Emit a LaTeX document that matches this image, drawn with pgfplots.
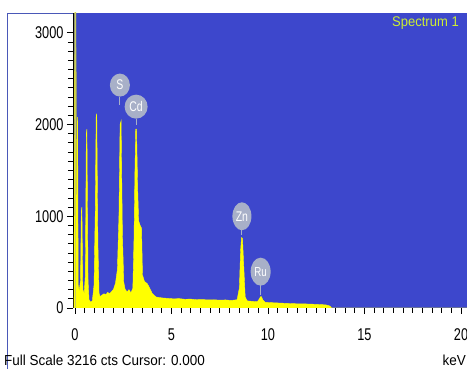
\documentclass[border=0pt]{standalone}
\usepackage{fontspec}
\setmainfont{Liberation Sans}
\newfontfamily\narrowfont{Liberation Sans}[FakeStretch=0.75]
\newfontfamily\infofont{Liberation Sans}[FakeStretch=0.93]
\usepackage{pgfplots}
\pgfplotsset{compat=1.18}
\usetikzlibrary{shapes.geometric}
\definecolor{bgblue}{HTML}{3D47CC}
\definecolor{specyellow}{HTML}{FFFF00}
\definecolor{bubble}{HTML}{A8B0C8}
\definecolor{spectxt}{HTML}{CCEE33}
\definecolor{framecol}{HTML}{4A58B8}
\definecolor{spikecol}{HTML}{C8CC60}
\begin{document}
\begin{tikzpicture}
\path[use as bounding box] (0,0) rectangle (467pt,369pt);
\draw[framecol, line width=0.8pt] (7pt,0pt) -- (7pt,356pt) -- (467pt,356pt);
\begin{axis}[
  at={(73pt,61pt)}, anchor=south west,
  scale only axis, width=394pt, height=295pt,
  xmin=-0.1, xmax=20.31, ymin=0, ymax=3216,
  axis background/.style={fill=bgblue},
  axis x line*=bottom, axis y line*=left,
  axis line style={-},
  x axis line style={draw=none},
  y axis line style={black, line width=0.9pt},
  xtick={0,5,10,15,20}, ytick={0,1000,2000,3000},
  minor x tick num=9, minor y tick num=9,
  tick align=outside,
  major tick length=6pt, minor tick length=5pt,
  every tick/.style={black, line width=0.8pt},
  /pgf/number format/assume math mode=true,
  /pgf/number format/1000 sep={},
  xticklabel style={font=\narrowfont\fontsize{17}{17}\selectfont, yshift=-11pt},
  yticklabel style={font=\narrowfont\fontsize{17}{17}\selectfont},
]
\addplot[fill=specyellow, draw=specyellow, line width=0.4pt] coordinates {
(-0.05,0) (0.00,3400) (0.05,3400) (0.08,300) (0.10,700) (0.12,2000) (0.14,2080) (0.17,250)
(0.22,180) (0.29,300) (0.33,1050) (0.36,1100) (0.41,200) (0.48,160) (0.54,350) (0.59,1900) (0.62,1950)
(0.68,300) (0.73,90) (0.80,65) (0.90,75) (0.99,250) (1.05,1000) (1.10,2080) (1.13,2120)
(1.19,700) (1.25,160) (1.30,125) (1.40,140) (1.50,155) (1.60,145) (1.70,170)
(1.80,155) (1.90,180) (2.00,205) (2.10,270) (2.20,420) (2.28,1000) (2.34,2000) (2.39,2040)
(2.46,800) (2.53,280) (2.60,205) (2.70,175) (2.80,200) (2.90,165) (3.00,215)
(3.06,750) (3.11,1500) (3.15,1950) (3.19,1950) (3.25,1300) (3.30,950) (3.38,900) (3.45,870)
(3.50,360) (3.60,290) (3.75,265) (3.90,205) (4.00,160) (4.20,120) (4.50,110)
(4.80,105) (5.10,100) (5.40,102) (5.70,95) (6.00,97) (6.30,90) (6.60,92) (6.90,88)
(7.20,90) (7.50,85) (7.80,88) (8.10,82) (8.40,90) (8.52,220) (8.58,620)
(8.63,770) (8.68,760) (8.74,480) (8.82,120) (8.92,78) (9.20,72) (9.45,68) (9.54,95)
(9.62,125) (9.66,125) (9.74,85) (9.85,62) (10.20,58) (10.50,55) (11.00,50) (11.50,46)
(12.00,44) (12.50,40) (13.00,34) (13.20,22) (13.30,0) (20.40,0)
} \closedcycle;
\addplot[spikecol, line width=1.2pt] coordinates {(0.02,0) (0.02,3400)};
\draw[bubble, line width=1pt] (axis cs:2.33,2300) -- (axis cs:2.33,2210);
\draw[bubble, line width=1pt] (axis cs:3.17,2060) -- (axis cs:3.17,1990);
\draw[bubble, line width=1pt] (axis cs:8.65,850) -- (axis cs:8.65,800);
\draw[bubble, line width=1pt] (axis cs:9.62,250) -- (axis cs:9.62,140);
\node[ellipse, fill=bubble, inner sep=0pt, minimum width=20pt, minimum height=23pt, text=white, font=\narrowfont\fontsize{14}{14}\selectfont] at (axis cs:2.33,2430) {S};
\node[ellipse, fill=bubble, inner sep=0pt, minimum width=23pt, minimum height=24pt, text=white, font=\narrowfont\fontsize{14}{14}\selectfont] at (axis cs:3.17,2195) {Cd};
\node[ellipse, fill=bubble, inner sep=0pt, minimum width=19pt, minimum height=28pt, text=white, font=\narrowfont\fontsize{14}{14}\selectfont] at (axis cs:8.65,1000) {Zn};
\node[ellipse, fill=bubble, inner sep=0pt, minimum width=20pt, minimum height=28pt, text=white, font=\narrowfont\fontsize{13}{13}\selectfont] at (axis cs:9.62,396) {Ru};
\end{axis}
\node[anchor=west, text=spectxt, font=\infofont\fontsize{14}{14}\selectfont, inner sep=0pt] at (392pt,346pt) {Spectrum 1};
\node[anchor=west, font=\infofont\fontsize{14.5}{14.5}\selectfont, inner sep=0pt] at (4pt,9pt) {Full Scale 3216 cts Cursor: 0.000};
\node[anchor=east, font=\infofont\fontsize{14.5}{14.5}\selectfont, inner sep=0pt] at (466pt,9pt) {keV};
\end{tikzpicture}
\end{document}
